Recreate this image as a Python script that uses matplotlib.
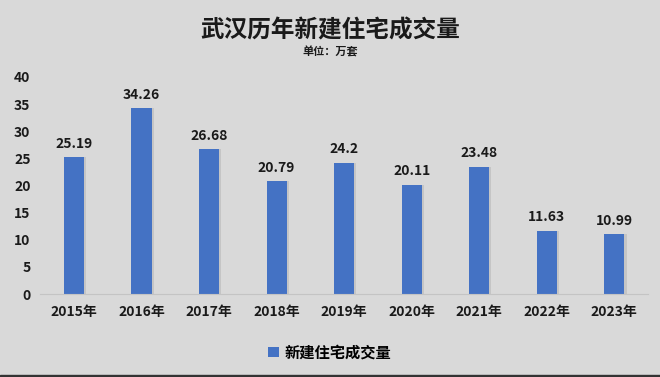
import matplotlib
matplotlib.use("Agg")
import matplotlib.pyplot as plt
from matplotlib.patches import Rectangle

plt.rcParams['font.family'] = ['Noto Sans CJK SC', 'DejaVu Sans']

years = ["2015年", "2016年", "2017年", "2018年", "2019年", "2020年", "2021年", "2022年", "2023年"]
values = [25.19, 34.26, 26.68, 20.79, 24.2, 20.11, 23.48, 11.63, 10.99]
value_labels = ["25.19", "34.26", "26.68", "20.79", "24.2", "20.11", "23.48", "11.63", "10.99"]
series_name = "新建住宅成交量"

bg = "#d9d9d9"
bar_color = "#4472c4"

fig = plt.figure(figsize=(6.6, 3.77), dpi=100, facecolor=bg)
ax = fig.add_axes([0.061, 0.22, 0.921, 0.576])
ax.set_facecolor(bg)

x = range(len(years))
# subtle shadow behind bars
ax.bar([i + 0.03 for i in x], values, width=0.3, color="#a0a0a0", alpha=0.35, zorder=1)
bars = ax.bar(x, values, width=0.3, color=bar_color, zorder=2, label=series_name)

for i, v in enumerate(values):
    ax.text(i, v + 1.2, value_labels[i], ha="center", va="bottom",
            fontsize=10, fontweight="bold", color="#1a1a1a")

ax.set_ylim(0, 40)
ax.set_xlim(-0.5, len(years) - 0.5)
ax.set_yticks(range(0, 41, 5))
ax.set_xticks(list(x))
ax.set_xticklabels(years)
for s in ["top", "right", "left"]:
    ax.spines[s].set_visible(False)
ax.spines["bottom"].set_color("#c4c4c4")
ax.tick_params(axis="both", length=0, labelsize=10, colors="#1a1a1a")
ax.tick_params(axis="x", pad=8)
ax.tick_params(axis="y", pad=7)
for lab in ax.get_xticklabels() + ax.get_yticklabels():
    lab.set_fontweight("bold")

fig.text(0.5, 0.92, "武汉历年新建住宅成交量", ha="center", va="center",
         fontsize=17, fontweight="bold", color="#1a1a1a")
fig.text(0.5, 0.862, "单位：万套", ha="center", va="center",
         fontsize=8, fontweight="bold", color="#1a1a1a")

leg = fig.legend(handles=[bars], labels=[series_name], loc="center",
                 bbox_to_anchor=(0.5, 0.065), frameon=False,
                 prop={"weight": "bold", "size": 11},
                 handlelength=0.7, handleheight=0.7, handletextpad=0.4)

# dark bottom border
fig.patches.append(Rectangle((0, 0), 1, 0.006, transform=fig.transFigure,
                             color="#333333", zorder=5))

fig.savefig("out.png", dpi=100, facecolor=bg)
